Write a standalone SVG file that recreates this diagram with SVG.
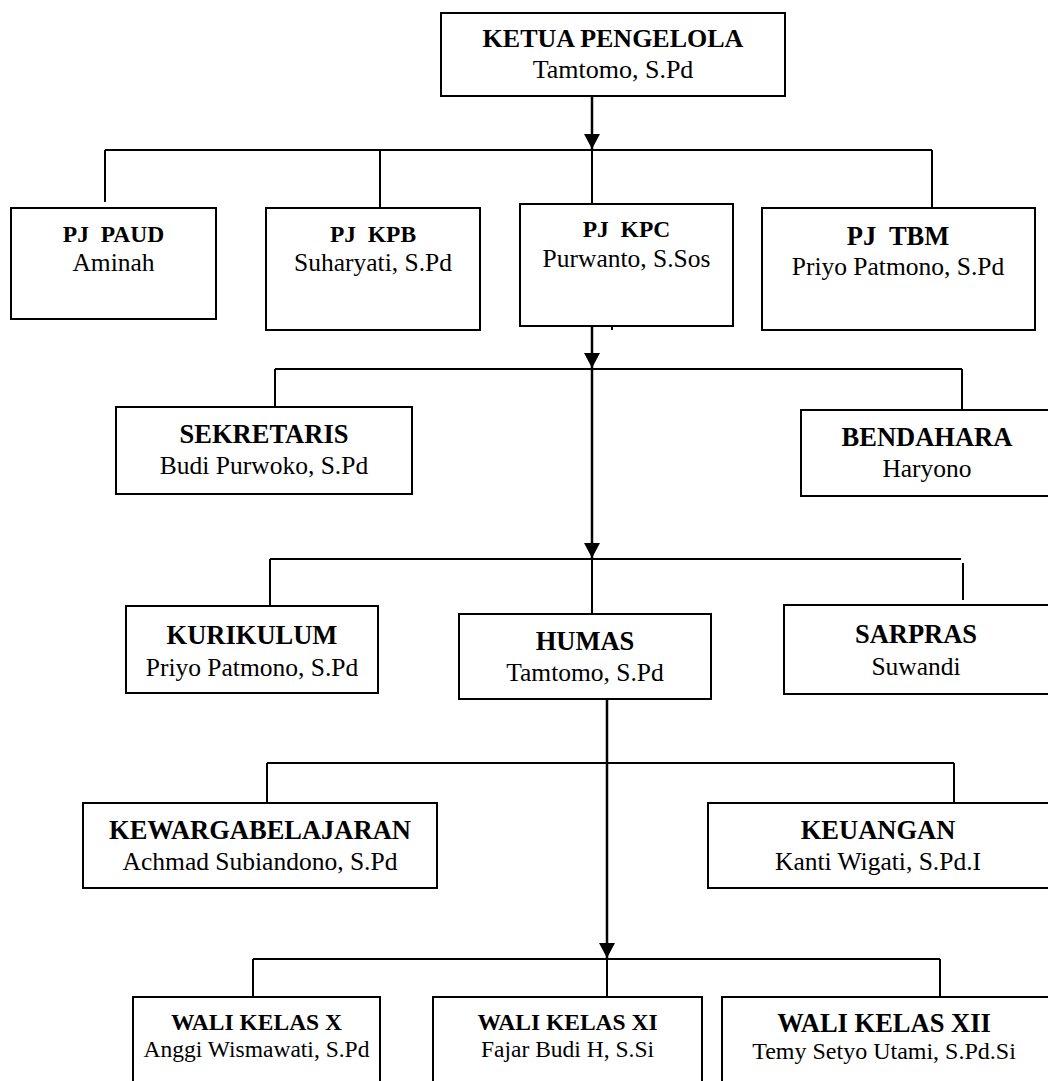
<svg xmlns="http://www.w3.org/2000/svg" width="1048" height="1081" viewBox="0 0 1048 1081">
<defs>
<style>
.box{fill:#fff;stroke:#000;stroke-width:2}
.ln{fill:none;stroke:#000;stroke-width:2}
.ar{fill:none;stroke:#000;stroke-width:2.5}
text{font-family:"Liberation Serif","Times New Roman",serif;fill:#000;text-anchor:middle}
.t{font-weight:bold;font-size:26.5px}
.n{font-size:25.5px}
.ts{font-weight:bold;font-size:23.5px}
.ns{font-size:23.5px}
</style>
<marker id="ah" markerUnits="userSpaceOnUse" markerWidth="16" markerHeight="16" viewBox="0 0 16 16" refX="15" refY="8" orient="auto">
<path d="M0,0 L15,8 L0,16 Z" fill="#000"/>
</marker>
</defs>
<rect width="1048" height="1081" fill="#fff"/>
<g id="connectors">
<line class="ar" x1="592" y1="96" x2="592" y2="149" marker-end="url(#ah)"/>
<line class="ln" x1="105" y1="150" x2="932" y2="150"/>
<line class="ln" x1="105" y1="150" x2="105" y2="202"/>
<line class="ln" x1="380" y1="150" x2="380" y2="208"/>
<line class="ln" x1="592" y1="150" x2="592" y2="204"/>
<line class="ln" x1="932" y1="150" x2="932" y2="208"/>
<line class="ar" x1="592" y1="326" x2="592" y2="368" marker-end="url(#ah)"/>
<line class="ln" x1="612" y1="326" x2="612" y2="330"/>
<line class="ln" x1="275" y1="369" x2="962" y2="369"/>
<line class="ln" x1="275" y1="369" x2="275" y2="407"/>
<line class="ln" x1="962" y1="369" x2="962" y2="410"/>
<line class="ar" x1="592" y1="369" x2="592" y2="558" marker-end="url(#ah)"/>
<line class="ln" x1="270" y1="559" x2="961" y2="559"/>
<line class="ln" x1="270" y1="559" x2="270" y2="606"/>
<line class="ln" x1="592" y1="559" x2="592" y2="614"/>
<line class="ln" x1="963" y1="563" x2="963" y2="600"/>
<line class="ar" x1="607" y1="699" x2="607" y2="958" marker-end="url(#ah)"/>
<line class="ln" x1="267" y1="763" x2="954" y2="763"/>
<line class="ln" x1="267" y1="763" x2="267" y2="803"/>
<line class="ln" x1="954" y1="763" x2="954" y2="803"/>
<line class="ln" x1="253" y1="959" x2="940" y2="959"/>
<line class="ln" x1="253" y1="959" x2="253" y2="997"/>
<line class="ln" x1="607" y1="959" x2="607" y2="997"/>
<line class="ln" x1="940" y1="959" x2="940" y2="997"/>
</g>
<g id="ketua"><rect class="box" x="441" y="13" width="344" height="83"/><text class="t" x="613" y="47" style="font-size:26px">KETUA PENGELOLA</text><text class="n" x="613" y="78" style="font-size:26px">Tamtomo, S.Pd</text></g>
<g id="pj-paud"><rect class="box" x="11" y="208" width="205" height="111"/><text class="ts" x="113.5" y="242" xml:space="preserve">PJ  PAUD</text><text class="n" x="113.5" y="271">Aminah</text></g>
<g id="pj-kpb"><rect class="box" x="266" y="208" width="214" height="122"/><text class="ts" x="373" y="242" xml:space="preserve">PJ  KPB</text><text class="n" x="373" y="271">Suharyati, S.Pd</text></g>
<g id="pj-kpc"><rect class="box" x="520" y="204" width="213" height="122"/><text class="ts" x="626.5" y="237" xml:space="preserve">PJ  KPC</text><text class="n" x="626.5" y="267">Purwanto, S.Sos</text></g>
<g id="pj-tbm"><rect class="box" x="762" y="208" width="273" height="122"/><text class="t" x="898" y="245" xml:space="preserve">PJ  TBM</text><text class="n" x="898" y="275">Priyo Patmono, S.Pd</text></g>
<g id="sekretaris"><rect class="box" x="116" y="407" width="296" height="87"/><text class="t" x="264" y="443">SEKRETARIS</text><text class="n" x="264" y="474">Budi Purwoko, S.Pd</text></g>
<g id="bendahara"><rect class="box" x="801" y="410" width="250" height="86"/><text class="t" x="927" y="446">BENDAHARA</text><text class="n" x="927" y="477">Haryono</text></g>
<g id="kurikulum"><rect class="box" x="126" y="606" width="252" height="87"/><text class="t" x="252" y="644">KURIKULUM</text><text class="n" x="252" y="676">Priyo Patmono, S.Pd</text></g>
<g id="humas"><rect class="box" x="459" y="614" width="252" height="85"/><text class="t" x="585" y="650">HUMAS</text><text class="n" x="585" y="681">Tamtomo, S.Pd</text></g>
<g id="sarpras"><rect class="box" x="784" y="605" width="267" height="89"/><text class="t" x="916" y="643">SARPRAS</text><text class="n" x="916" y="675">Suwandi</text></g>
<g id="kewargabelajaran"><rect class="box" x="83" y="803" width="354" height="85"/><text class="t" x="260" y="839">KEWARGABELAJARAN</text><text class="n" x="260" y="870">Achmad Subiandono, S.Pd</text></g>
<g id="keuangan"><rect class="box" x="708" y="803" width="343" height="85"/><text class="t" x="878" y="839">KEUANGAN</text><text class="n" x="878" y="870">Kanti Wigati, S.Pd.I</text></g>
<g id="wali-x"><rect class="box" x="133" y="997" width="247" height="100"/><text class="ts" x="256.5" y="1030">WALI KELAS X</text><text class="ns" x="256.5" y="1057">Anggi Wismawati, S.Pd</text></g>
<g id="wali-xi"><rect class="box" x="433" y="997" width="269" height="100"/><text class="ts" x="567.5" y="1030">WALI KELAS XI</text><text class="ns" x="567.5" y="1057">Fajar Budi H, S.Si</text></g>
<g id="wali-xii"><rect class="box" x="722" y="997" width="329" height="100"/><text class="t" x="884" y="1032">WALI KELAS XII</text><text class="ns" x="884" y="1059" style="font-size:24px">Temy Setyo Utami, S.Pd.Si</text></g>
</svg>
